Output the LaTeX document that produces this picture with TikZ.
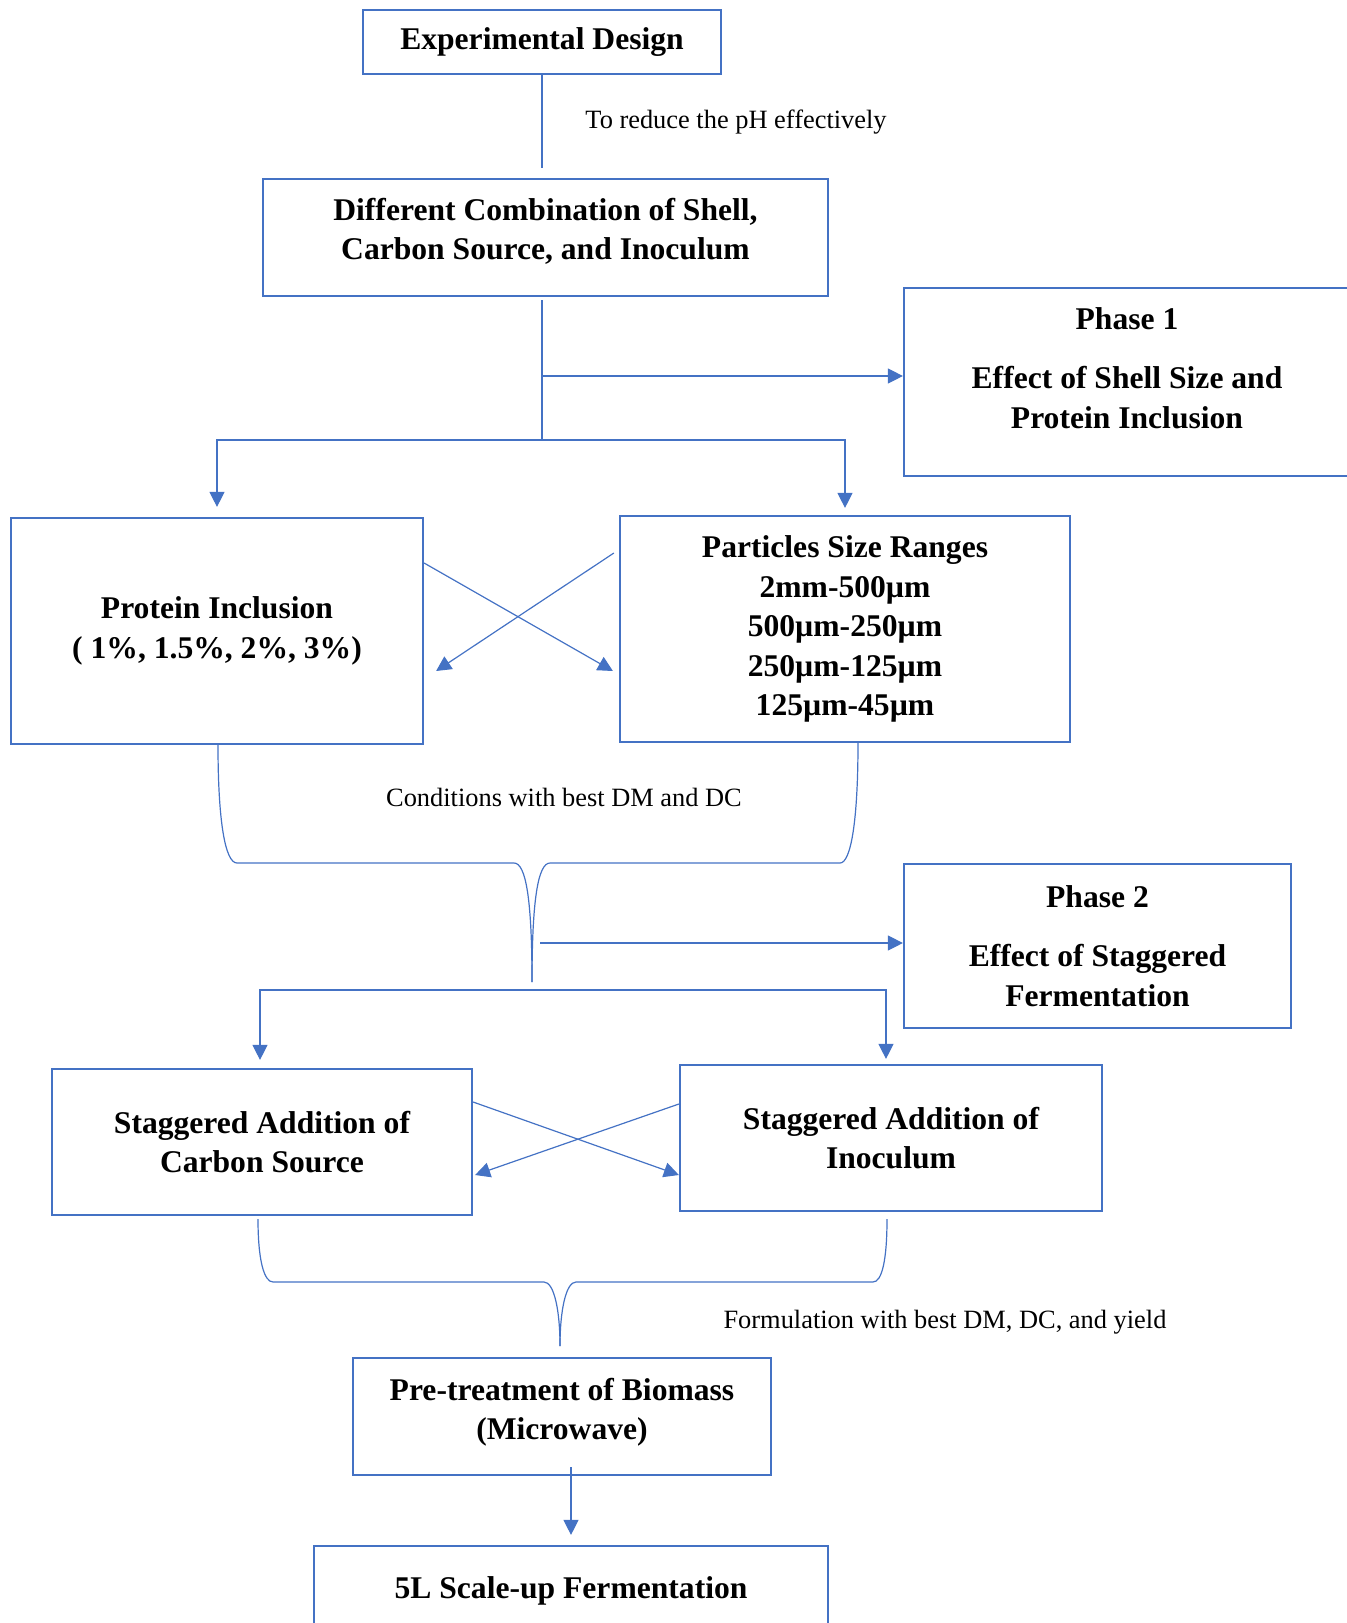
\documentclass[tikz,border=0pt]{standalone}
\usepackage{fontspec}
\setmainfont{Liberation Serif}
\usepackage{tikz}
\usetikzlibrary{arrows.meta}
\usepackage{xcolor}
\definecolor{flowblue}{HTML}{4472C4}

\begin{document}
\begin{tikzpicture}[x=0.5pt,y=-0.5pt,
    box/.style={draw=flowblue,line width=1.1pt,align=center,inner sep=0pt,
      font=\fontsize{15.8}{19.8}\selectfont\bfseries},
    link/.style={draw=flowblue,line width=0.6pt},
    arr/.style={link,-{Triangle[length=7.5pt,width=7.5pt]}},
    note/.style={font=\fontsize{13.2}{16}\selectfont}]
  \useasboundingbox (0,0) rectangle (1347,1623);

  \node[box,minimum width=179pt,minimum height=32pt] (design) at (542,42) {Experimental Design};
  \node[box,minimum width=282.5pt,minimum height=58.5pt,text depth=8.6pt] (combo) at (545.5,237.5)
    {Different Combination of Shell,\\Carbon Source, and Inoculum};
  \node[box,minimum width=223pt,minimum height=94pt,text depth=14pt] (phase1) at (1127,382)
    {Phase 1\\[10pt]Effect of Shell Size and\\Protein Inclusion};
  \node[box,minimum width=206pt,minimum height=113pt] (protein) at (217,631)
    {Protein Inclusion\\( 1\%, 1.5\%, 2\%, 3\%)};
  \node[box,minimum width=225pt,minimum height=113pt] (particles) at (845,629)
    {Particles Size Ranges\\2mm-500µm\\500µm-250µm\\250µm-125µm\\125µm-45µm};
  \node[box,minimum width=193.5pt,minimum height=82pt] (phase2) at (1097.5,946)
    {Phase 2\\[10pt]Effect of Staggered\\Fermentation};
  \node[box,minimum width=210pt,minimum height=73pt] (carbon) at (262,1142)
    {Staggered Addition of\\Carbon Source};
  \node[box,minimum width=211pt,minimum height=73pt] (inoculum) at (891,1138)
    {Staggered Addition of\\Inoculum};
  \node[box,minimum width=209pt,minimum height=58.5pt,text depth=7.6pt] (pretreat) at (562,1416.5)
    {Pre-treatment of Biomass\\(Microwave)};
  \node[box,minimum width=257pt,minimum height=45pt] (scaleup) at (571,1591)
    {5L Scale-up Fermentation};

  \node[note] (ph) at (736,122) {To reduce the pH effectively};
  \node[note] (dmdc) at (564,797) {Conditions with best DM and DC};
  \node[note] (yield) at (945,1322) {Formulation with best DM, DC, and yield};

  \coordinate (fork1) at (542,440);
  \coordinate (tap1) at (542,376);
  \coordinate (tip1) at (532,982);
  \coordinate (tap2) at (540,943);
  \coordinate (fork2) at (532,990);
  \coordinate (tip2) at (560,1346);

  \draw[link,shorten >=5pt] (design.south) -- (design.south |- combo.north);
  \draw[link,shorten <=1.5pt] (combo.south -| fork1) -- (fork1);
  \draw[arr] (tap1) -- (tap1 -| phase1.west);
  \draw[arr,shorten >=5pt] (fork1) -| (protein.north);
  \draw[arr,shorten >=3.5pt] (fork1) -| (particles.north);

  \draw[arr] ([yshift=34pt]protein.east) -- ([xshift=-3pt,yshift=-21pt]particles.west);
  \draw[arr] ([xshift=-2.5pt,yshift=38pt]particles.west) -- ([xshift=6pt,yshift=-20pt]protein.east);

  \draw[link] ([xshift=0.5pt]protein.south) .. controls (218,820) and (225,863) .. (237,863)
    -- (514,863) .. controls (526,863) and (532,900) .. (tip1);
  \draw[link] ([xshift=6.5pt]particles.south) .. controls (858,820) and (851,863) .. (840,863)
    -- (550,863) .. controls (538,863) and (532,900) .. (tip1);

  \draw[arr] (tap2) -- (tap2 -| phase2.west);
  \draw[arr,shorten >=4pt] (fork2) -| ([xshift=-1pt]carbon.north);
  \draw[arr,shorten >=2.5pt] (fork2) -| ([xshift=-2.5pt]inoculum.north);

  \draw[arr] ([yshift=20pt]carbon.east) -- ([yshift=-18.5pt]inoculum.west);
  \draw[arr] ([yshift=17pt]inoculum.west) -- ([xshift=1pt,yshift=-16.5pt]carbon.east);

  \draw[link] ([xshift=-2pt,yshift=-1.5pt]carbon.south) .. controls (258,1260) and (264,1282) .. (273,1282)
    -- (544,1282) .. controls (554,1282) and (560,1310) .. (tip2);
  \draw[link] ([xshift=-2pt,yshift=-3.5pt]inoculum.south) .. controls (887,1260) and (882,1282) .. (873,1282)
    -- (576,1282) .. controls (566,1282) and (560,1310) .. (tip2);

  \draw[arr,shorten <=-4.5pt,shorten >=5pt] (pretreat.south -| scaleup.north) -- (scaleup.north);
\end{tikzpicture}
\end{document}
